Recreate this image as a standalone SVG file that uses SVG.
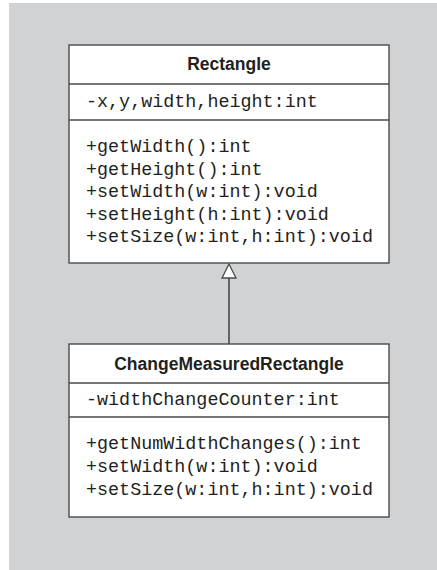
<svg xmlns="http://www.w3.org/2000/svg" width="437" height="570" viewBox="0 0 437 570">
  <style>
    .box { fill: #ffffff; stroke: #4a4a4c; stroke-width: 1.4; }
    .sep { stroke: #4a4a4c; stroke-width: 1.4; }
    .title { font-family: "Liberation Sans", Arial, sans-serif; font-weight: bold; font-size: 17.5px; fill: #231f20; text-anchor: middle; }
    .mem { font-family: "Liberation Mono", "Courier New", monospace; font-size: 18.4px; fill: #231f20; }
    .edge { stroke: #4a4a4c; stroke-width: 1.6; fill: none; }
  </style>
  <defs>
    <marker id="inherit" markerWidth="16" markerHeight="16" refX="7" refY="1" orient="auto-start-reverse" markerUnits="userSpaceOnUse" viewBox="0 0 14 16">
      <path d="M7,1 L14,15 L0,15 Z" fill="#ffffff" stroke="#4a4a4c" stroke-width="1.3"/>
    </marker>
  </defs>

  <!-- page background -->
  <rect x="9" y="3" width="428" height="567" fill="#d1d2d4"/>

  <!-- generalization: ChangeMeasuredRectangle extends Rectangle -->
  <g id="connectors">
    <line class="edge" x1="229" y1="344" x2="229" y2="278"/>
    <path d="M229,264 L236,278 L222,278 Z" fill="#ffffff" stroke="#4a4a4c" stroke-width="1.3"/>
  </g>

  <g id="rectangle">
    <rect class="box" x="69" y="45" width="320" height="218"/>
    <line class="sep" x1="69" y1="84" x2="389" y2="84"/>
    <line class="sep" x1="69" y1="120" x2="389" y2="120"/>
    <text class="title" x="229" y="70">Rectangle</text>
    <text class="mem" x="86" y="107">-x,y,width,height:int</text>
    <text class="mem" x="86" y="152">+getWidth():int</text>
    <text class="mem" x="86" y="174.5">+getHeight():int</text>
    <text class="mem" x="86" y="197">+setWidth(w:int):void</text>
    <text class="mem" x="86" y="219.5">+setHeight(h:int):void</text>
    <text class="mem" x="86" y="242">+setSize(w:int,h:int):void</text>
  </g>

  <g id="change-measured-rectangle">
    <rect class="box" x="69" y="344" width="320" height="173"/>
    <line class="sep" x1="69" y1="383" x2="389" y2="383"/>
    <line class="sep" x1="69" y1="417" x2="389" y2="417"/>
    <text class="title" x="229" y="370">ChangeMeasuredRectangle</text>
    <text class="mem" x="86" y="405">-widthChangeCounter:int</text>
    <text class="mem" x="86" y="449">+getNumWidthChanges():int</text>
    <text class="mem" x="86" y="472">+setWidth(w:int):void</text>
    <text class="mem" x="86" y="495">+setSize(w:int,h:int):void</text>
  </g>
</svg>
